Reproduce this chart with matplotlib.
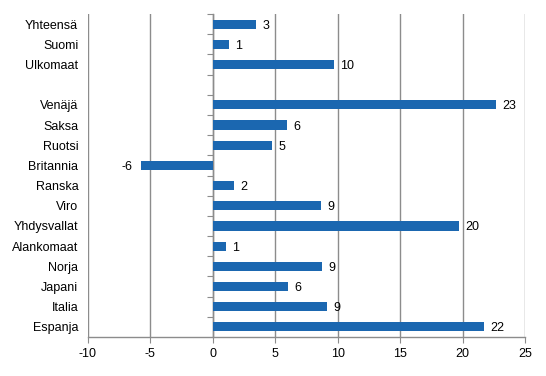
import numpy as np
import matplotlib
matplotlib.use("Agg")
import matplotlib.pyplot as plt

plt.rcParams['font.family'] = ['Liberation Sans', 'DejaVu Sans']

categories = ["Yhteensä", "Suomi", "Ulkomaat", "", "Venäjä", "Saksa", "Ruotsi",
              "Britannia", "Ranska", "Viro", "Yhdysvallat", "Alankomaat",
              "Norja", "Japani", "Italia", "Espanja"]
values = [3.45, 1.31, 9.72, np.nan, 22.65, 5.94, 4.74, -5.78, 1.71, 8.67,
          19.68, 1.04, 8.76, 6.02, 9.16, 21.69]
xticks = [-10, -5, 0, 5, 10, 15, 20, 25]

bar_color = "#1b67b0"
grid_color = "#8c8c8c"
fs = 9

fig = plt.figure(figsize=(5.46, 3.76), dpi=100)
ax = fig.add_axes([88/546, 1-337/376, (525-88)/546, (337-14)/376])

y = np.arange(len(categories))
vals = np.array(values, dtype=float)
ax.barh(y, np.nan_to_num(vals), height=0.45, color=bar_color, zorder=3)

for yi, v in zip(y, vals):
    if np.isnan(v):
        continue
    if v >= 0:
        ax.annotate(f"{v:.0f}", (v, yi), xytext=(4.5, 0), textcoords="offset points",
                    ha="left", va="center_baseline", fontsize=fs)
    else:
        ax.annotate(f"{v:.0f}", (v, yi), xytext=(-6, 0), textcoords="offset points",
                    ha="right", va="center_baseline", fontsize=fs)

ax.set_xlim(xticks[0], xticks[-1])
ax.set_ylim(len(categories) - 0.5, -0.5)
ax.set_xticks(xticks)
ax.set_xticklabels([str(t) for t in xticks], fontsize=fs)
ax.set_yticks(y)
ax.set_yticklabels(categories, fontsize=fs)
ax.tick_params(axis='y', length=0, pad=7)
ax.tick_params(axis='x', length=4, color=grid_color, pad=4)

ax.grid(axis='x', color=grid_color, linewidth=1, zorder=0)
for s in ['top', 'right', 'left']:
    ax.spines[s].set_visible(False)
ax.spines['bottom'].set_color(grid_color)
ax.spines['bottom'].set_linewidth(1)

# zero axis with category separator ticks
frac0 = (0 - xticks[0]) / (xticks[-1] - xticks[0])
sec = ax.secondary_yaxis(frac0)
sec.set_yticks(np.arange(-0.5, len(categories) - 0.5, 1.0))
sec.set_yticklabels([])
sec.tick_params(axis='y', length=4, color=grid_color, direction='out')
sec.spines['left'].set_color(grid_color)
sec.spines['left'].set_linewidth(1)

fig.savefig("out.png", dpi=100)
